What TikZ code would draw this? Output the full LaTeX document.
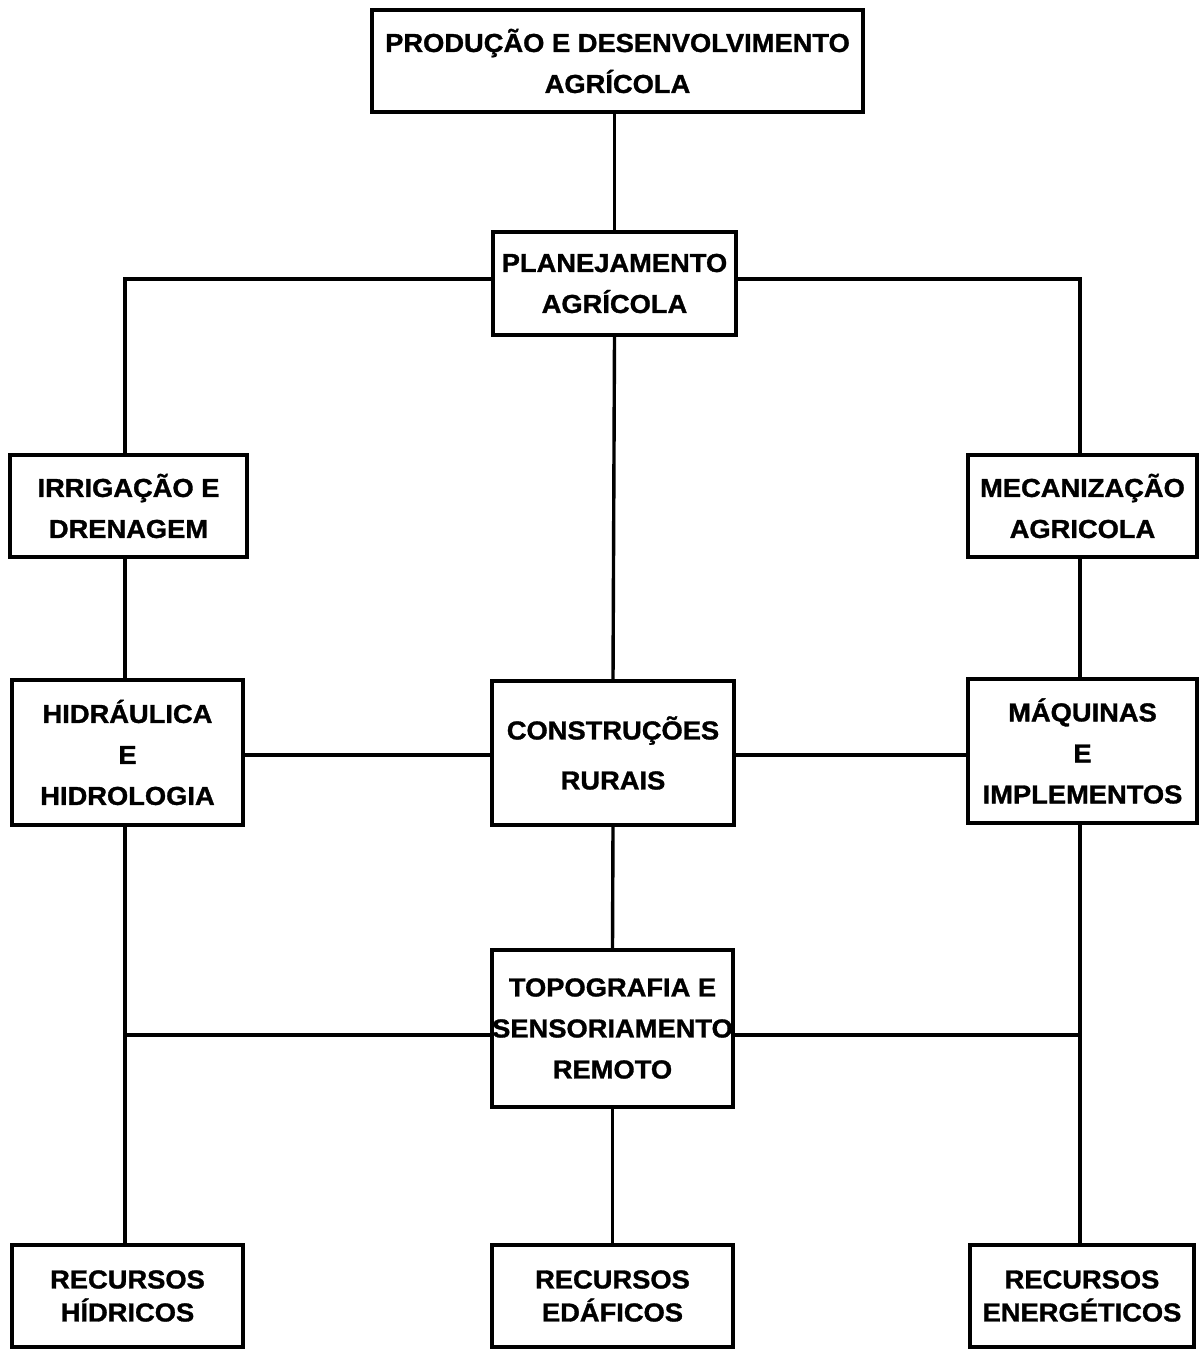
\documentclass[tikz,border=0pt]{standalone}
\usepackage{fontspec}
\setmainfont{Liberation Sans}[BoldFeatures={FakeStretch=1.05,FakeBold=1.2}]
\begin{document}
\begin{tikzpicture}[x=1pt,y=-1pt,
  box/.style={draw, line width=3.4pt, rectangle, inner sep=0pt, align=center,
    font=\bfseries\fontsize{26}{41}\selectfont},
  link/.style={line width=3.4pt}]
\useasboundingbox (0,0) rectangle (1201,1349);
% boxes
\node[box, minimum width=491pt, minimum height=102pt] (top) at (617.5,61) {PRODUÇÃO E DESENVOLVIMENTO\\AGRÍCOLA};
\node[box, minimum width=243pt, minimum height=103pt] (plan) at (614.5,283.5) {PLANEJAMENTO\\AGRÍCOLA};
\node[box, minimum width=237pt, minimum height=102pt] (irr) at (128.5,506) {IRRIGAÇÃO E\\DRENAGEM};
\node[box, minimum width=229pt, minimum height=102pt] (mec) at (1082.5,506) {MECANIZAÇÃO\\AGRICOLA};
\node[box, minimum width=231pt, minimum height=145pt] (hid) at (127.5,752.5) {HIDRÁULICA\\E\\HIDROLOGIA};
\node[box, minimum width=242pt, minimum height=144pt, font=\bfseries\fontsize{26}{50}\selectfont] (con) at (613,753) {CONSTRUÇÕES\\RURAIS};
\node[box, minimum width=229pt, minimum height=144pt] (maq) at (1082.5,751) {MÁQUINAS\\E\\IMPLEMENTOS};
\node[box, minimum width=241pt, minimum height=157pt] (topo) at (612.5,1028.5) {TOPOGRAFIA E\\SENSORIAMENTO\\REMOTO};
\node[box, minimum width=231pt, minimum height=102pt, font=\bfseries\fontsize{26}{33}\selectfont] (rh) at (127.5,1296) {RECURSOS\\HÍDRICOS};
\node[box, minimum width=241pt, minimum height=102pt, font=\bfseries\fontsize{26}{33}\selectfont] (re) at (612.5,1296) {RECURSOS\\EDÁFICOS};
\node[box, minimum width=224pt, minimum height=102pt, font=\bfseries\fontsize{26}{33}\selectfont] (rn) at (1082,1296) {RECURSOS\\ENERGÉTICOS};
% junction coordinates
\coordinate (jL) at (125,279);
\coordinate (jR) at (1080,279);
\coordinate (mid) at (613,755);
\coordinate (kL) at (125,1035);
\coordinate (kR) at (1080,1035);
% connectors
\draw[link] (plan.north) -- (plan.north |- top.south);
\draw[link] (plan.west |- jL) -- (jL) -- (jL |- irr.north);
\draw[link] (plan.east |- jR) -- (jR) -- (jR |- mec.north);
\draw[link] (plan.south) -- (con.north);
\draw[link] (jL |- irr.south) -- (jL |- hid.north);
\draw[link] (jR |- mec.south) -- (jR |- maq.north);
\draw[link] (hid.east |- mid) -- (con.west |- mid);
\draw[link] (con.east |- mid) -- (maq.west |- mid);
\draw[link] (con.south) -- (topo.north);
\draw[link] (jL |- hid.south) -- (jL |- rh.north);
\draw[link] (jR |- maq.south) -- (jR |- rn.north);
\draw[link] (kL) -- (topo.west |- kL);
\draw[link] (topo.east |- kR) -- (kR);
\draw[link] (topo.south) -- (re.north);
\end{tikzpicture}
\end{document}
